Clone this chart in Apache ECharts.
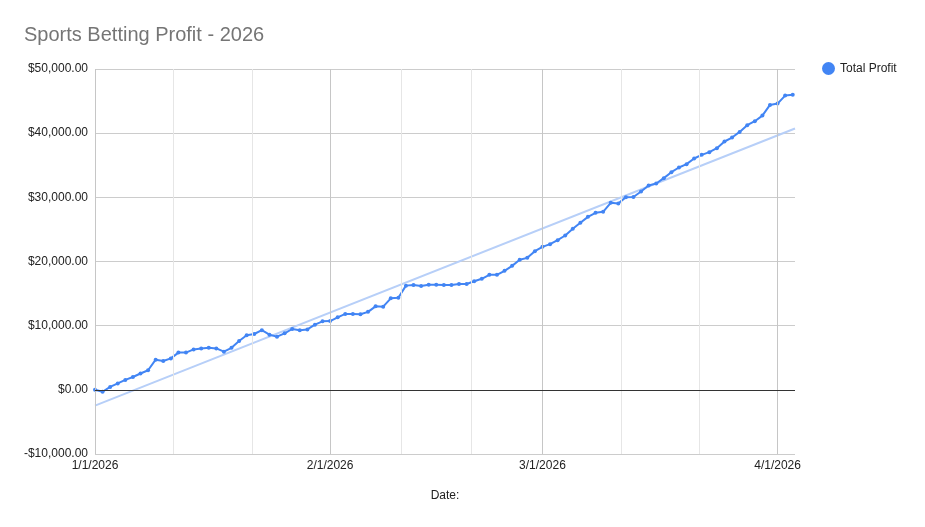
<!DOCTYPE html>
<html>
<head>
<meta charset="utf-8">
<script src="https://cdn.jsdelivr.net/npm/echarts@6/dist/echarts.min.js"></script>
<style>
  html, body { margin: 0; padding: 0; background: #fff; }
  #chart { width: 925px; height: 527px; }
</style>
</head>
<body>
<div id="chart"></div>
<script>
// daily total profit, starting 1/1/2026 (day 0)
const profit = [
  0, -300, 450, 1000, 1550, 2000, 2550, 3050, 4700, 4500,
  4900, 5800, 5800, 6300, 6450, 6550, 6450, 5950, 6550, 7600,
  8500, 8700, 9300, 8600, 8280, 8800, 9480, 9270, 9420, 10150,
  10680, 10720, 11300, 11830, 11830, 11770, 12150, 13010, 12960, 14260,
  14360, 16240, 16340, 16180, 16390, 16390, 16340, 16340, 16500, 16500,
  16930, 17300, 17920, 17920, 18540, 19320, 20260, 20570, 21600, 22280,
  22700, 23330, 24050, 25090, 26030, 26960, 27580, 27740, 29150, 29040,
  30030, 30050, 30900, 31850, 32160, 32990, 33920, 34650, 35170, 36050,
  36620, 37040, 37660, 38700, 39320, 40200, 41240, 41860, 42740, 44400,
  44610, 45860, 45970
];
// month starts (day offsets) and their labels
const monthDays = [0, 31, 59, 90];
const monthLabels = ['1/1/2026', '2/1/2026', '3/1/2026', '4/1/2026'];
const monthLengths = [31, 28, 31];

const points = profit.map((v, i) => [i, v]);

// linear trendline (least squares)
const n = profit.length;
let sx = 0, sy = 0, sxy = 0, sxx = 0;
profit.forEach((v, i) => { sx += i; sy += v; sxy += i * v; sxx += i * i; });
const slope = (n * sxy - sx * sy) / (n * sxx - sx * sx);
const icpt = (sy - slope * sx) / n;
const xMax = 92.3;
const trend = [[0, icpt], [xMax, icpt + slope * xMax]];

// vertical grid: months + thirds of each month
const majorLines = monthDays.map(d => ({ xAxis: d }));
const minorLines = [];
monthLengths.forEach((len, k) => {
  minorLines.push({ xAxis: monthDays[k] + len / 3 });
  minorLines.push({ xAxis: monthDays[k] + 2 * len / 3 });
});

const money = v => {
  const s = Math.abs(v).toFixed(2).replace(/\B(?=(\d{3})+(?!\d))/g, ',');
  return (v < 0 ? '-$' : '$') + s;
};

const chart = echarts.init(document.getElementById('chart'));
chart.setOption({
  animation: false,
  textStyle: { fontFamily: '"Liberation Sans", Arial, sans-serif' },
  title: {
    text: 'Sports Betting Profit - 2026',
    left: 19, top: 20,
    textStyle: { fontSize: 20, fontWeight: 'normal', color: '#757575' }
  },
  legend: {
    data: ['Total Profit'],
    left: 817, top: 57,
    icon: 'circle', itemWidth: 13, itemHeight: 13, itemGap: 8,
    textStyle: { fontSize: 12, color: '#222' }
  },
  grid: { left: 95, right: 130, top: 69, bottom: 73 },
  xAxis: {
    type: 'value',
    min: 0, max: xMax,
    name: 'Date:',
    nameLocation: 'middle',
    nameGap: 36,
    nameTextStyle: { fontSize: 12, color: '#222' },
    axisLine: { show: false },
    axisTick: { show: false },
    splitLine: { show: false },
    axisLabel: {
      customValues: monthDays,
      fontSize: 12, color: '#222', margin: 6,
      formatter: v => monthLabels[monthDays.indexOf(v)] || ''
    }
  },
  yAxis: {
    type: 'value',
    min: -10000, max: 50000, interval: 10000,
    axisLine: { show: false },
    axisTick: { show: false },
    splitLine: { lineStyle: { color: '#cccccc', width: 1 } },
    axisLabel: { fontSize: 12, color: '#222', margin: 7, padding: [3, 0, 0, 0], formatter: money }
  },
  series: [
    {
      name: 'grid',
      type: 'line',
      data: [],
      silent: true,
      markLine: {
        silent: true, symbol: 'none', label: { show: false },
        data: [
          ...minorLines.map(d => ({ ...d, lineStyle: { color: '#e6e6e6', width: 1, type: 'solid' } })),
          ...majorLines.map(d => ({ ...d, lineStyle: { color: '#c6c6c6', width: 1, type: 'solid' } })),
          { yAxis: 0, lineStyle: { color: '#333', width: 1, type: 'solid' } }
        ]
      }
    },
    {
      name: 'Trend',
      type: 'line',
      data: trend,
      symbol: 'none',
      silent: true,
      lineStyle: { color: '#b7cff8', width: 2 },
      z: 3
    },
    {
      name: 'Total Profit',
      type: 'line',
      data: points,
      symbol: 'circle',
      symbolSize: 4,
      showAllSymbol: true,
      itemStyle: { color: '#4285f4' },
      lineStyle: { color: '#4285f4', width: 2 },
      z: 4
    }
  ]
});
</script>
</body>
</html>
